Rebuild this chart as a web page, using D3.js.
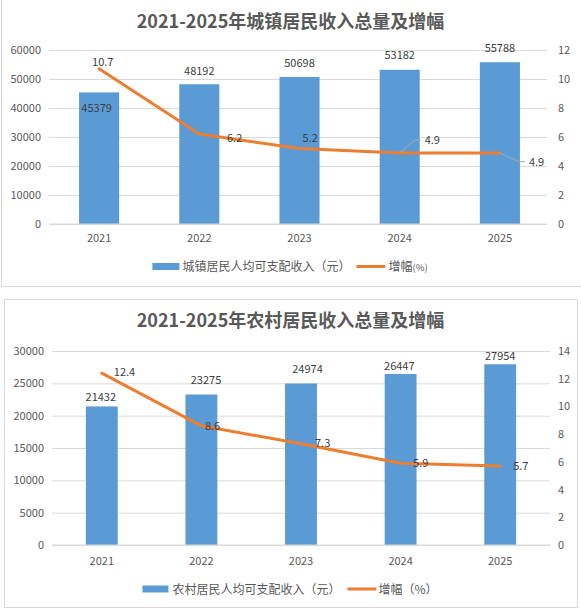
<!DOCTYPE html>
<html>
<head>
<meta charset="utf-8">
<script src="https://cdn.jsdelivr.net/npm/d3@7"></script>
<style>
  body { margin: 0; background: #fff; }
  svg { display: block; font-family: 'Noto Sans CJK SC', 'Noto Sans', sans-serif; }
</style>
</head>
<body>
<div id="chart"></div>
<script>
const years = ['2021', '2022', '2023', '2024', '2025']

const urbanIncome = [45379, 48192, 50698, 53182, 55788]
const urbanGrowth = [10.7, 6.2, 5.2, 4.9, 4.9]
const urbanLeftTicks = [0, 10000, 20000, 30000, 40000, 50000, 60000]
const urbanRightTicks = [0, 2, 4, 6, 8, 10, 12]

const ruralIncome = [21432, 23275, 24974, 26447, 27954]
const ruralGrowth = [12.4, 8.6, 7.3, 5.9, 5.7]
const ruralLeftTicks = [0, 5000, 10000, 15000, 20000, 25000, 30000]
const ruralRightTicks = [0, 2, 4, 6, 8, 10, 12, 14]

const width = 581
const height = 611

const svg = d3
  .select('#chart')
  .append('svg')
  .attr('width', width)
  .attr('height', height)

const barColor = '#5b9bd5'
const lineColor = '#ed7d31'
const gridColor = '#d9d9d9'
const axisText = '#595959'
const labelText = '#404040'

/* label nudges, as the labels were dragged by hand in the original */
const urbanChart = {
  box: [1.5, -2, 582, 288.5],
  title: '2021-2025年城镇居民收入总量及增幅',
  titleY: 28,
  left: 49, right: 550, gridRight: 547, top: 50, bottom: 224,
  pad: 0.6,
  income: urbanIncome, growth: urbanGrowth,
  leftTicks: urbanLeftTicks, rightTicks: urbanRightTicks,
  xPad: 10.5,
  barDx: [-2.5, 0, 0, 0, 0],
  barDy: [15.6, -13, -14, -14.8, -14],
  lineDx: [-7, 27.7, 3, 25, 29],
  lineDy: [-6.9, 3.9, -10.6, -13, 8.7],
  leader: [false, false, false, true, true],
  legendY: 266.5,
  legendBar: '城镇居民人均可支配收入（元）',
  legendLine: '增幅',
  legendLineSmall: '(%)',
  legendGaps: [3, 6, 3],
  legendRectW: 27
}

const ruralChart = {
  box: [4.5, 299.5, 573, 308],
  title: '2021-2025年农村居民收入总量及增幅',
  titleY: 327,
  left: 52, right: 550, gridRight: 550, top: 351, bottom: 545,
  pad: 0.68,
  income: ruralIncome, growth: ruralGrowth,
  leftTicks: ruralLeftTicks, rightTicks: ruralRightTicks,
  xPad: 12,
  barDx: [-1, 4.6, 6.5, -1.3, 0],
  barDy: [-9.7, -14, -15, -7.5, -7.8],
  lineDx: [12, 3.5, 14, 12.5, 13],
  lineDy: [-1, 0, -0.6, 0, 0],
  leader: [false, false, false, false, false],
  legendY: 589,
  legendBar: '农村居民人均可支配收入（元）',
  legendLine: '增幅（%）',
  legendLineSmall: '',
  legendGaps: [4, 7, 2],
  legendRectW: 26
}

drawChart(urbanChart)
drawChart(ruralChart)

function drawChart(cfg) {
  const g = svg.append('g')

  g.append('rect')
    .attr('x', cfg.box[0])
    .attr('y', cfg.box[1])
    .attr('width', cfg.box[2])
    .attr('height', cfg.box[3])
    .attr('fill', 'none')
    .attr('stroke', gridColor)

  g.append('text')
    .attr('x', 290.5)
    .attr('y', cfg.titleY)
    .attr('text-anchor', 'middle')
    .style('font-size', '18px')
    .style('font-weight', 'bold')
    .attr('fill', axisText)
    .text(cfg.title)

  const x = d3.scaleBand()
    .domain(years)
    .range([cfg.left, cfg.right])
    .paddingInner(cfg.pad)
    .paddingOuter(cfg.pad / 2)

  const yLeft = d3.scaleLinear()
    .domain([0, d3.max(cfg.leftTicks)])
    .range([cfg.bottom, cfg.top])

  const yRight = d3.scaleLinear()
    .domain([0, d3.max(cfg.rightTicks)])
    .range([cfg.bottom, cfg.top])

  const cx = d => x(d) + x.bandwidth() / 2

  // left axis with gridlines
  g.append('g')
    .attr('transform', 'translate(' + cfg.left + ',0)')
    .call(d3.axisLeft(yLeft)
      .tickValues(cfg.leftTicks)
      .tickSize(-(cfg.gridRight - cfg.left))
      .tickPadding(8)
      .tickFormat(d3.format('d')))
    .call(a => a.select('.domain').remove())
    .call(a => a.selectAll('.tick line').attr('stroke', gridColor))
    .call(a => a.selectAll('text')
      .attr('fill', axisText)
      .style('font-size', '11px')
      .style('font-family', "'Noto Sans CJK SC', sans-serif"))

  // right axis
  g.append('g')
    .attr('transform', 'translate(' + cfg.gridRight + ',0)')
    .call(d3.axisRight(yRight)
      .tickValues(cfg.rightTicks)
      .tickSize(0)
      .tickPadding(558 - cfg.gridRight))
    .call(a => a.select('.domain').remove())
    .call(a => a.selectAll('text')
      .attr('fill', axisText)
      .style('font-size', '11px')
      .style('font-family', "'Noto Sans CJK SC', sans-serif"))

  // bars
  g.append('g')
    .selectAll('rect')
    .data(cfg.income)
    .enter()
    .append('rect')
    .attr('x', (d, i) => x(years[i]))
    .attr('y', d => yLeft(d))
    .attr('width', x.bandwidth())
    .attr('height', d => cfg.bottom - yLeft(d))
    .attr('fill', barColor)

  // x axis (drawn after bars so the zero line sits on top)
  g.append('g')
    .attr('transform', 'translate(0,' + cfg.bottom + ')')
    .call(d3.axisBottom(x).tickSize(0).tickPadding(cfg.xPad))
    .call(a => a.select('.domain').remove())
    .call(a => a.selectAll('text')
      .attr('fill', axisText)
      .style('font-size', '11px')
      .style('font-family', "'Noto Sans CJK SC', sans-serif"))

  g.append('line')
    .attr('x1', cfg.left)
    .attr('x2', cfg.gridRight)
    .attr('y1', cfg.bottom)
    .attr('y2', cfg.bottom)
    .attr('stroke', gridColor)

  // growth line
  const line = d3.line()
    .x((d, i) => cx(years[i]))
    .y(d => yRight(d))

  g.append('path')
    .datum(cfg.growth)
    .attr('d', line)
    .attr('fill', 'none')
    .attr('stroke', lineColor)
    .attr('stroke-width', 3)
    .attr('stroke-linejoin', 'round')
    .attr('stroke-linecap', 'round')

  // leader lines for the labels pulled away from the line
  g.append('g')
    .selectAll('path')
    .data(cfg.growth.map((v, i) => ({ v, i })).filter(d => cfg.leader[d.i]))
    .enter()
    .append('path')
    .attr('d', d => {
      const px = cx(years[d.i])
      const py = yRight(d.v)
      const lx = px + cfg.lineDx[d.i]
      const ly = py + cfg.lineDy[d.i]
      return 'M' + px + ',' + py + 'L' + (lx - 10) + ',' + ly + 'L' + (lx - 4) + ',' + ly
    })
    .attr('fill', 'none')
    .attr('stroke', '#a6a6a6')
    .attr('stroke-width', 1)

  // bar value labels
  g.append('g')
    .selectAll('text')
    .data(cfg.income)
    .enter()
    .append('text')
    .attr('x', (d, i) => cx(years[i]) + cfg.barDx[i])
    .attr('y', (d, i) => yLeft(d) + cfg.barDy[i] + 4)
    .attr('text-anchor', 'middle')
    .attr('fill', labelText)
    .style('font-size', '11px')
    .text(d => d)

  // growth value labels
  g.append('g')
    .selectAll('text')
    .data(cfg.growth)
    .enter()
    .append('text')
    .attr('x', (d, i) => cx(years[i]) + cfg.lineDx[i])
    .attr('y', (d, i) => yRight(d) + cfg.lineDy[i] + 4)
    .attr('fill', labelText)
    .style('font-size', '11px')
    .text(d => d)

  // legend, centred under the plot
  const legend = g.append('g')
  const ly = cfg.legendY

  legend.append('rect')
    .attr('x', 0)
    .attr('y', ly - 3.5)
    .attr('width', cfg.legendRectW)
    .attr('height', 7)
    .attr('fill', barColor)

  const t1 = legend.append('text')
    .attr('x', cfg.legendRectW + cfg.legendGaps[0])
    .attr('y', ly + 4.5)
    .attr('fill', axisText)
    .style('font-size', '12px')
    .text(cfg.legendBar)

  const lx = cfg.legendRectW + cfg.legendGaps[0] + t1.node().getComputedTextLength() + cfg.legendGaps[1]

  legend.append('line')
    .attr('x1', lx)
    .attr('x2', lx + 29)
    .attr('y1', ly)
    .attr('y2', ly)
    .attr('stroke', lineColor)
    .attr('stroke-width', 3)

  const t2 = legend.append('text')
    .attr('x', lx + 29 + cfg.legendGaps[2])
    .attr('y', ly + 4.5)
    .attr('fill', axisText)
    .style('font-size', '12px')
    .text(cfg.legendLine)

  if (cfg.legendLineSmall) {
    t2.append('tspan')
      .style('font-size', '9.5px')
      .text(cfg.legendLineSmall)
  }

  const total = lx + 29 + cfg.legendGaps[2] + t2.node().getComputedTextLength()
  legend.attr('transform', 'translate(' + (290 - total / 2) + ',0)')
}
</script>
</body>
</html>
